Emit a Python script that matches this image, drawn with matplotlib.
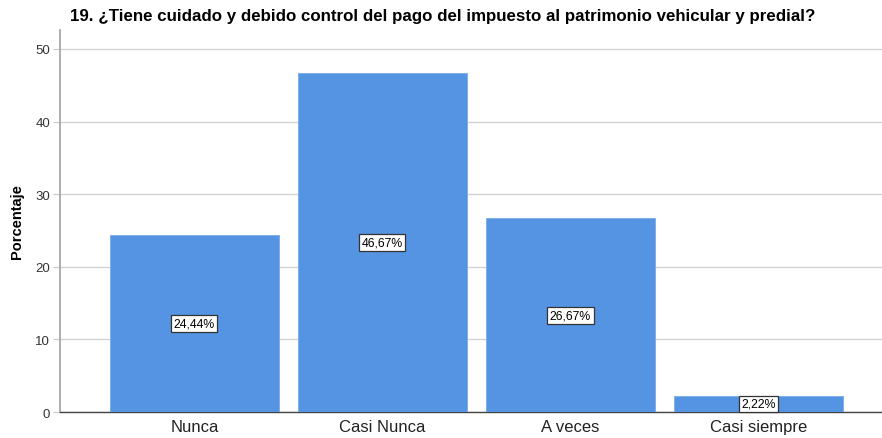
import numpy as np
import matplotlib.pyplot as plt

categorias = ['Nunca', 'Casi Nunca', 'A veces', 'Casi siempre']
porcentajes = [24.44, 46.67, 26.67, 2.22]
etiquetas = ['24,44%', '46,67%', '26,67%', '2,22%']

plt.rcParams['font.family'] = ['Liberation Sans', 'DejaVu Sans']

fig = plt.figure(figsize=(8.82, 4.39), dpi=100)
ax = fig.add_axes([0.068, 0.0592, 0.932, 0.8702])

x = np.arange(len(categorias))
ax.bar(x, porcentajes, width=0.9, color='#5594e2', edgecolor='#7aaae8', linewidth=0.6, zorder=3)

# etiqueta de porcentaje en la mitad de cada barra
for xi, v, t in zip(x, porcentajes, etiquetas):
    ax.text(xi, v / 2, t, ha='center', va='center', fontsize=8.8, zorder=4,
            bbox=dict(boxstyle='square,pad=0.2', facecolor='white', edgecolor='#333333', linewidth=0.9))

ax.set_xlim(-0.715, 3.657)
ax.set_ylim(0, 52.6)
ax.set_yticks([0, 10, 20, 30, 40, 50])
ax.yaxis.grid(True, color='#d4d4d4', linewidth=1.0, zorder=0)
ax.set_xticks(x)
ax.set_xticklabels(categorias, fontsize=12)
ax.tick_params(axis='x', length=0, pad=5)
ax.tick_params(axis='y', labelsize=9.5, length=5, color='#c8c8c8', colors='#333333', pad=2)
for lbl in ax.get_xticklabels():
    lbl.set_color('#222222')

ax.spines['top'].set_visible(False)
ax.spines['right'].set_visible(False)
ax.spines['left'].set_color('#a0a0a0')
ax.spines['left'].set_linewidth(1.2)
ax.spines['bottom'].set_color('#444444')
ax.spines['bottom'].set_linewidth(1.0)

ax.set_ylabel('Porcentaje', fontsize=10.5, fontweight='bold', labelpad=8)
fig.text(0.079, 0.963, '19. ¿Tiene cuidado y debido control del pago del impuesto al patrimonio vehicular y predial?',
         fontsize=12.2, fontweight='bold', ha='left', va='center')

fig.savefig('out.png', dpi=100)
